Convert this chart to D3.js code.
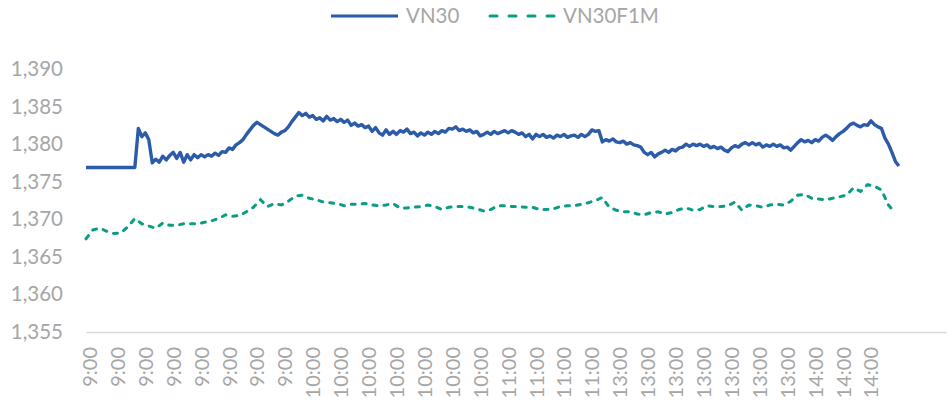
<!DOCTYPE html>
<html>
<head>
<meta charset="utf-8">
<script src="https://cdn.jsdelivr.net/npm/d3@7"></script>
<style>
  body { margin: 0; background: #fff; }
  text { font-family: Lato, "Open Sans", sans-serif; }
</style>
</head>
<body>
<div id="chart"></div>
<script>
// series names (legend)
var seriesNames = ['VN30', 'VN30F1M']

// x tick labels, one every 8 minutes of session time
var tickLabels = ['9:00', '9:00', '9:00', '9:00', '9:00', '9:00', '9:00', '9:00',
  '10:00', '10:00', '10:00', '10:00', '10:00', '10:00', '10:00',
  '11:00', '11:00', '11:00', '11:00',
  '13:00', '13:00', '13:00', '13:00', '13:00', '13:00', '13:00',
  '14:00', '14:00', '14:00']

var yTicks = [1355, 1360, 1365, 1370, 1375, 1380, 1385, 1390]

// VN30, one value per session minute
var vn30 = [1376.9, 1376.9, 1376.9, 1376.9, 1376.9, 1376.9, 1376.9, 1376.9, 1376.9, 1376.9,
  1376.9, 1376.9, 1376.9, 1376.9, 1376.9, 1382.1, 1381.0, 1381.5, 1380.6, 1377.5,
  1378.0, 1377.6, 1378.4, 1377.9, 1378.5, 1378.9, 1378.1, 1378.9, 1377.6, 1378.6,
  1377.9, 1378.6, 1378.2, 1378.6, 1378.3, 1378.6, 1378.4, 1378.8, 1378.5, 1379.0,
  1378.9, 1379.5, 1379.3, 1379.9, 1380.2, 1380.6, 1381.3, 1381.9, 1382.5, 1382.9,
  1382.6, 1382.3, 1382.0, 1381.7, 1381.4, 1381.2, 1381.6, 1381.8, 1382.3, 1383.0,
  1383.6, 1384.2, 1383.8, 1384.1, 1383.6, 1383.8, 1383.3, 1383.5, 1383.1, 1383.7,
  1383.2, 1383.4, 1383.0, 1383.3, 1382.9, 1383.2, 1382.5, 1382.8, 1382.4, 1382.6,
  1382.2, 1382.4, 1381.7, 1382.2, 1381.5, 1381.2, 1381.9, 1381.3, 1381.7, 1381.3,
  1381.8, 1381.6, 1382.0, 1381.4, 1381.6, 1381.1, 1381.5, 1381.2, 1381.6, 1381.3,
  1381.7, 1381.4, 1381.8, 1381.6, 1382.1, 1382.0, 1382.3, 1381.8, 1382.0, 1381.7,
  1381.9, 1381.5, 1381.7, 1381.1, 1381.3, 1381.6, 1381.3, 1381.7, 1381.4, 1381.6,
  1381.8, 1381.5, 1381.8, 1381.6, 1381.3, 1381.5, 1381.0, 1381.3, 1380.7, 1381.3,
  1381.0, 1381.3, 1380.9, 1381.1, 1380.8, 1381.2, 1381.0, 1381.3, 1380.9, 1381.1,
  1381.2, 1380.9, 1381.3, 1381.0, 1381.3, 1381.9, 1381.7, 1381.8, 1380.3, 1380.6,
  1380.4, 1380.7, 1380.3, 1380.2, 1380.4, 1380.0, 1380.2, 1379.9, 1379.8, 1379.6,
  1378.9, 1378.6, 1378.9, 1378.3, 1378.7, 1378.9, 1379.2, 1378.9, 1379.3, 1379.1,
  1379.5, 1379.6, 1380.0, 1379.7, 1380.0, 1379.8, 1380.0, 1379.7, 1379.9, 1379.5,
  1379.7, 1379.4, 1379.6, 1379.2, 1379.0, 1379.5, 1379.8, 1379.6, 1380.0, 1380.2,
  1379.9, 1380.2, 1379.9, 1380.1, 1379.6, 1379.9, 1379.7, 1380.0, 1379.7, 1379.9,
  1379.5, 1379.6, 1379.2, 1379.7, 1380.2, 1380.6, 1380.3, 1380.5, 1380.2, 1380.6,
  1380.4, 1380.9, 1381.2, 1380.9, 1380.5, 1381.0, 1381.4, 1381.7, 1382.1, 1382.6,
  1382.8, 1382.5, 1382.3, 1382.6, 1382.5, 1383.1, 1382.6, 1382.3, 1382.1, 1380.8,
  1380.0, 1378.9, 1377.7, 1377.1]

// VN30F1M, one value every 2 session minutes
var vn30f1m = [1367.4, 1368.6, 1368.8, 1368.4, 1368.1, 1368.2, 1369.0, 1370.1, 1369.4, 1369.1,
  1368.8, 1369.5, 1369.2, 1369.2, 1369.4, 1369.4, 1369.4, 1369.6, 1369.8, 1370.1,
  1370.6, 1370.4, 1370.5, 1371.0, 1371.6, 1372.6, 1371.7, 1372.1, 1371.9, 1372.4,
  1373.1, 1373.2, 1372.8, 1372.6, 1372.3, 1372.2, 1372.1, 1371.8, 1372.0, 1372.0,
  1372.1, 1371.9, 1371.8, 1371.9, 1372.1, 1371.5, 1371.5, 1371.6, 1371.7, 1371.9,
  1371.7, 1371.3, 1371.6, 1371.7, 1371.7, 1371.6, 1371.4, 1371.1, 1371.3, 1371.8,
  1371.8, 1371.7, 1371.7, 1371.6, 1371.6, 1371.3, 1371.3, 1371.4, 1371.7, 1371.8,
  1371.8, 1372.0, 1372.2, 1372.5, 1372.9, 1371.6, 1371.2, 1371.0, 1371.0, 1370.7,
  1370.6, 1370.9, 1371.0, 1370.7, 1370.9, 1371.3, 1371.5, 1371.2, 1371.3, 1371.8,
  1371.7, 1371.7, 1371.8, 1372.3, 1371.2, 1371.9, 1371.8, 1371.6, 1371.9, 1372.0,
  1371.9, 1372.4, 1373.2, 1373.3, 1372.8, 1372.7, 1372.6, 1372.8, 1373.0, 1373.2,
  1374.2, 1373.7, 1374.6, 1374.4, 1373.9, 1371.9, 1370.8]

var labelEvery = 8
var f1mStep = 2
var colors = ['#2c5ba9', '#0a9c84']
var textColor = '#a6a6a6'

var width = 949, height = 403

var svg = d3.select('#chart')
  .append('svg')
    .attr('width', width)
    .attr('height', height)

var x = d3.scaleLinear()
  .domain([0, 246.5])
  .range([86, 946])

var y = d3.scaleLinear()
  .domain([1355, 1390])
  .range([332, 69])

// y axis labels only
var yAxis = svg.append('g')
  .attr('transform', 'translate(66,0)')
  .call(d3.axisLeft(y).tickValues(yTicks).tickSize(0).tickPadding(3).tickFormat(d3.format(',')))
yAxis.select('.domain').remove()
yAxis.selectAll('text')
  .attr('fill', textColor)
  .style('font-size', '20.5px')

// x axis: baseline plus rotated labels
var xAxis = svg.append('g')
  .attr('transform', 'translate(0,332)')
  .call(d3.axisBottom(x)
    .tickValues(tickLabels.map(function(d, i){ return i * labelEvery + 1 }))
    .tickSize(0)
    .tickFormat(function(d, i){ return tickLabels[i] }))
xAxis.select('.domain').attr('stroke', '#d9d9d9').attr('stroke-width', 1.3)
xAxis.selectAll('text')
  .attr('fill', textColor)
  .style('font-size', '20px')
  .attr('text-anchor', 'end')
  .attr('transform', 'rotate(-90)')
  .attr('x', -15)
  .attr('y', 0)
  .attr('dy', '0.35em')

var lineVn30 = d3.line()
  .x(function(d, i){ return x(i) })
  .y(function(d){ return y(d) })

var lineF1m = d3.line()
  .x(function(d, i){ return x(i * f1mStep) })
  .y(function(d){ return y(d) })

svg.append('path')
  .datum(vn30f1m)
  .attr('d', lineF1m)
  .attr('fill', 'none')
  .attr('stroke', colors[1])
  .attr('stroke-width', 3)
  .attr('stroke-linecap', 'round')
  .attr('stroke-dasharray', '4 7')

svg.append('path')
  .datum(vn30)
  .attr('d', lineVn30)
  .attr('fill', 'none')
  .attr('stroke', colors[0])
  .attr('stroke-width', 3.4)
  .attr('stroke-linejoin', 'round')

// legend
var legend = svg.append('g')
legend.append('line')
  .attr('x1', 331).attr('x2', 398).attr('y1', 16).attr('y2', 16)
  .attr('stroke', colors[0]).attr('stroke-width', 3)
legend.append('text')
  .attr('x', 406).attr('y', 16).attr('dy', '0.35em')
  .attr('fill', textColor).style('font-size', '20.5px')
  .text(seriesNames[0])
legend.append('line')
  .attr('x1', 490).attr('x2', 555).attr('y1', 16).attr('y2', 16)
  .attr('stroke', colors[1]).attr('stroke-width', 3)
  .attr('stroke-linecap', 'round')
  .attr('stroke-dasharray', '7 12')
legend.append('text')
  .attr('x', 563).attr('y', 16).attr('dy', '0.35em')
  .attr('fill', textColor).style('font-size', '20.5px')
  .text(seriesNames[1])
</script>
</body>
</html>
